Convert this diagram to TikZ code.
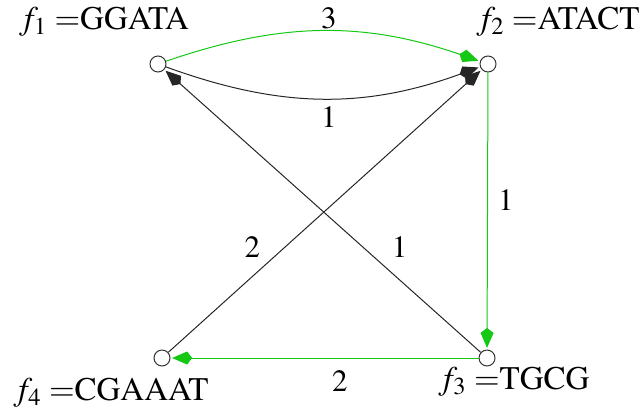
\documentclass[tikz,border=0pt]{standalone}
\usepackage[T1]{fontenc}
\usepackage{mathptmx}
\usetikzlibrary{arrows.meta}
\definecolor{egreen}{RGB}{20,200,20}
\newcommand{\fname}[1]{$f_{#1}=$}
\tikzset{
  vtx/.style={circle,draw=black!80,line width=0.5pt,minimum size=8pt,inner sep=0pt,fill=white},
  lab/.style={font=\fontsize{16.5}{19}\selectfont,inner sep=0pt},
  num/.style={font=\fontsize{15.5}{17}\selectfont,inner sep=1pt},
  edge/.style={line width=0.5pt,-{Kite[length=10pt,width=6.5pt,inset=2.5pt]},shorten >=0.8pt},
  gedge/.style={edge,draw=egreen},
  bedge/.style={edge,draw=black!85}
}
\begin{document}
\begin{tikzpicture}[x=0.5pt,y=-0.5pt]
\useasboundingbox (0,0) rectangle (640,412);
\node[vtx] (f1) at (158,64) {};
\node[vtx] (f2) at (488,64) {};
\node[vtx] (f3) at (487,358) {};
\node[vtx] (f4) at (162,358) {};
\node[lab] (l1) at (104,22) {\fname{1}GGATA};
\node[lab] (l2) at (558,22) {\fname{2}ATACT};
\node[lab] (l3) at (514,382) {\fname{3}TGCG};
\node[lab] (l4) at (111,393) {\fname{4}CGAAAT};
\draw[gedge] (f1) to[bend left=19] node[num,pos=0.52,above] (n3) {3} (f2);
\draw[bedge] (f1) to[bend right=20] node[num,pos=0.52,below=3pt] (n1a) {1} (f2);
\draw[gedge] (f2) -- node[num,pos=0.46,right=4pt] (n1b) {1} (f3);
\draw[gedge] (f3) -- node[num,pos=0.45,below=5pt] (n2a) {2} (f4);
\draw[bedge] (f4) -- node[num,pos=0.32,anchor=south east,xshift=-3pt,yshift=1pt] (n2b) {2} (f2);
\draw[bedge] (f3) -- node[num,pos=0.32,anchor=south west,xshift=5pt,yshift=1pt] (n1c) {1} (f1);
\end{tikzpicture}
\end{document}
